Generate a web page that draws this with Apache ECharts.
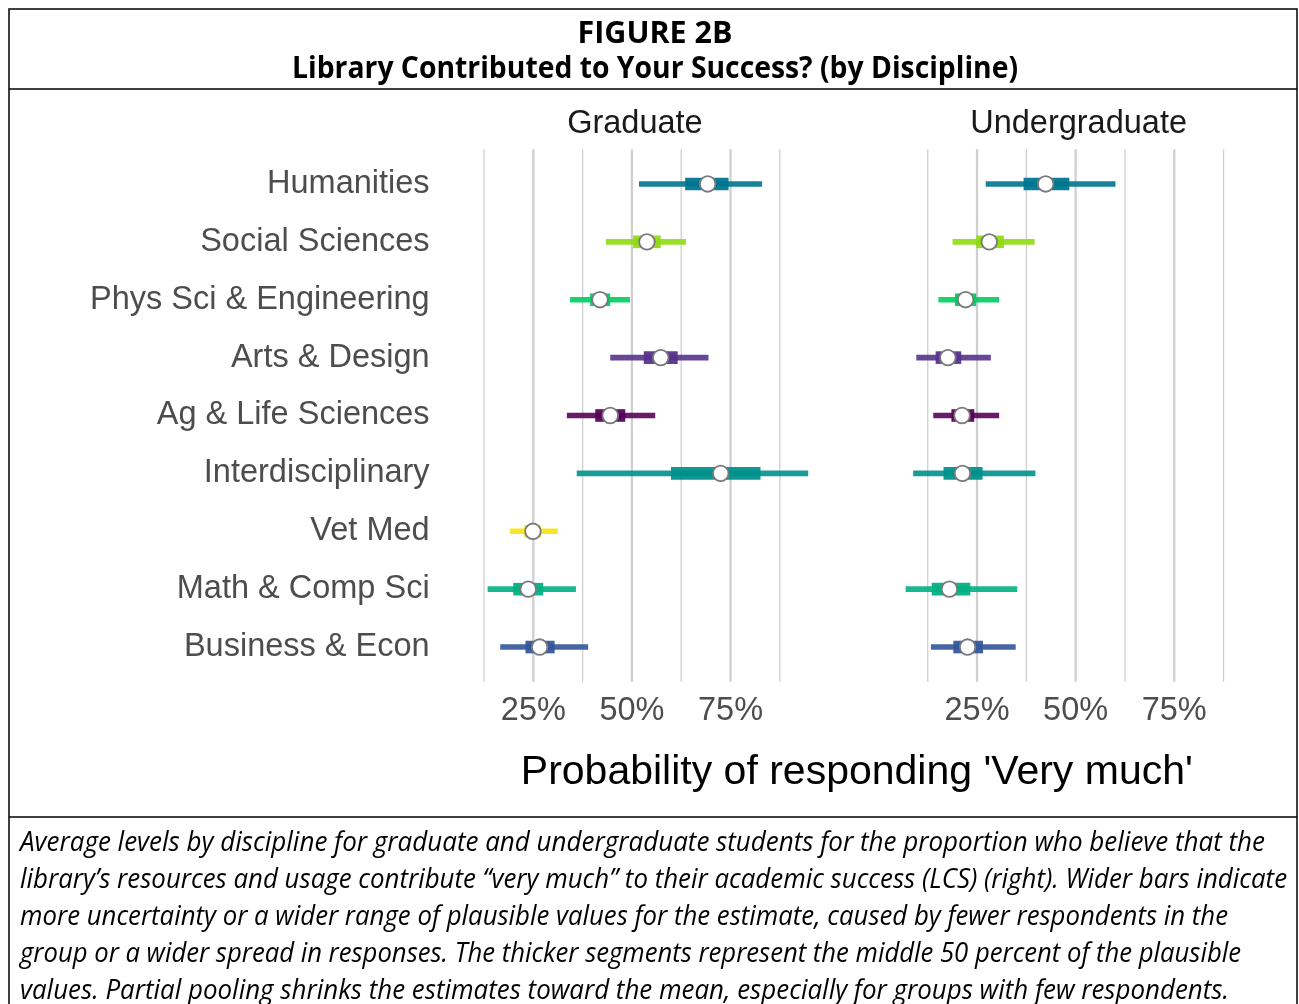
<!DOCTYPE html>
<html>
<head>
<meta charset="utf-8">
<script src="https://cdn.jsdelivr.net/npm/echarts@6/dist/echarts.min.js"></script>
<style>
  html, body { margin: 0; padding: 0; background: #fff; }
  #main { width: 1299px; height: 1004px; }
</style>
</head>
<body>
<div id="main"></div>
<script>
// disciplines, top to bottom
const categories = ['Humanities', 'Social Sciences', 'Phys Sci & Engineering', 'Arts & Design',
  'Ag & Life Sciences', 'Interdisciplinary', 'Vet Med', 'Math & Comp Sci', 'Business & Econ'];
const colors = ['#00758f', '#8fdb12', '#00cc62', '#56338b', '#56025a', '#00918b', '#f5e30c', '#00b083', '#33569a'];

// graduate: outer interval, middle 50%, mean
const gradLow  = [0.518, 0.434, 0.343, 0.445, 0.335, 0.360, 0.191, 0.134, 0.166];
const gradQ25  = [0.635, 0.503, 0.394, 0.530, 0.407, 0.599, 0.227, 0.199, 0.230];
const gradMean = [0.692, 0.538, 0.419, 0.573, 0.445, 0.725, 0.249, 0.237, 0.266];
const gradQ75  = [0.745, 0.573, 0.445, 0.616, 0.483, 0.826, 0.269, 0.275, 0.304];
const gradHigh = [0.830, 0.637, 0.495, 0.694, 0.559, 0.947, 0.312, 0.358, 0.389];

// undergraduate (no Vet Med)
const ugLow  = [0.272, 0.188, 0.152, 0.096, 0.139, 0.088, null, 0.069, 0.133];
const ugQ25  = [0.368, 0.248, 0.194, 0.145, 0.185, 0.165, null, 0.135, 0.190];
const ugMean = [0.424, 0.281, 0.221, 0.176, 0.212, 0.213, null, 0.180, 0.226];
const ugQ75  = [0.484, 0.318, 0.248, 0.210, 0.243, 0.264, null, 0.233, 0.265];
const ugHigh = [0.601, 0.396, 0.306, 0.285, 0.306, 0.398, null, 0.352, 0.348];

const tickVals = [0.25, 0.5, 0.75];
const gridVals = [0.125, 0.25, 0.375, 0.5, 0.625, 0.75, 0.875];
const panelNames = ['Graduate', 'Undergraduate'];

const captionLines = [
  'Average levels by discipline for graduate and undergraduate students for the proportion who believe that the',
  'library\u2019s resources and usage contribute \u201cvery much\u201d to their academic success (LCS) (right). Wider bars indicate',
  'more uncertainty or a wider range of plausible values for the estimate, caused by fewer respondents in the',
  'group or a wider spread in responses. The thicker segments represent the middle 50 percent of the plausible',
  'values. Partial pooling shrinks the estimates toward the mean, especially for groups with few respondents.'
];

const FONT = '"Liberation Sans", Arial, sans-serif';
const xMin = 0.025, xMax = 0.99;

// squeeze a text to a wanted width (the original uses a condensed face)
const measureCtx = document.createElement('canvas').getContext('2d');
function fitScale(text, font, target) {
  measureCtx.font = font;
  return target / measureCtx.measureText(text).width;
}

function buildData(low, q25, mean, q75, high) {
  const out = [];
  for (let i = 0; i < categories.length; i++) {
    if (mean[i] == null) continue;
    out.push([low[i], q25[i], mean[i], q75[i], high[i], i]);
  }
  return out;
}

function renderInterval(params, api) {
  const i = api.value(5);
  const y = api.coord([api.value(2), i])[1];
  const xl = api.coord([api.value(0), i])[0];
  const x1 = api.coord([api.value(1), i])[0];
  const xm = api.coord([api.value(2), i])[0];
  const x3 = api.coord([api.value(3), i])[0];
  const xh = api.coord([api.value(4), i])[0];
  const c = colors[i];
  return {
    type: 'group',
    children: [
      { type: 'rect', shape: { x: xl, y: y - 2.8, width: xh - xl, height: 5.6 }, style: { fill: c, opacity: 0.9 } },
      { type: 'rect', shape: { x: x1, y: y - 6.3, width: x3 - x1, height: 12.6 }, style: { fill: c, opacity: 0.94 } },
      { type: 'circle', shape: { cx: xm, cy: y, r: 7.8 }, style: { fill: '#ffffff', stroke: '#7a7a7a', lineWidth: 1.8 } }
    ]
  };
}

function renderGridLine(params, api) {
  const cs = params.coordSys;
  const x = api.coord([api.value(0), 0])[0];
  const ext = cs.height / categories.length * 0.1;
  return {
    type: 'line',
    shape: { x1: x, y1: cs.y - ext, x2: x, y2: cs.y + cs.height + ext },
    style: { stroke: '#cfcfcf', lineWidth: api.value(1) ? 2.3 : 1.3 }
  };
}

const grids = [
  { left: 444.6, top: 155, width: 380.6, height: 521 },
  { left: 888.3, top: 155, width: 380.6, height: 521 }
];

const xAxes = grids.map((g, k) => ({
  type: 'value', gridIndex: k, min: xMin, max: xMax,
  axisLine: { show: false }, axisTick: { show: false }, splitLine: { show: false },
  axisLabel: {
    customValues: tickVals,
    formatter: v => Math.round(v * 100) + '%',
    fontSize: 32.5, color: '#4d4d4d', fontFamily: FONT, margin: 19
  }
}));

const yAxes = grids.map((g, k) => ({
  type: 'category', gridIndex: k, data: categories, inverse: true,
  axisLine: { show: false }, axisTick: { show: false }, splitLine: { show: false },
  axisLabel: { show: k === 0, fontSize: 32.5, color: '#4d4d4d', fontFamily: FONT, margin: 15, padding: [4, 0, 0, 0] }
}));

const gridLineData = gridVals.map(v => [v, tickVals.indexOf(v) >= 0 ? 1 : 0]);

const series = [];
[0, 1].forEach(k => {
  series.push({
    type: 'custom', xAxisIndex: k, yAxisIndex: k, silent: true, z: 1,
    encode: { x: 0 },
    renderItem: renderGridLine, data: gridLineData
  });
});
series.push({
  type: 'custom', name: 'Graduate', xAxisIndex: 0, yAxisIndex: 0, z: 5, clip: false,
  encode: { x: [0, 4], y: 5 },
  renderItem: renderInterval, data: buildData(gradLow, gradQ25, gradMean, gradQ75, gradHigh)
});
series.push({
  type: 'custom', name: 'Undergraduate', xAxisIndex: 1, yAxisIndex: 1, z: 5, clip: false,
  encode: { x: [0, 4], y: 5 },
  renderItem: renderInterval, data: buildData(ugLow, ugQ25, ugMean, ugQ75, ugHigh)
});

const titleFont = 'bold 31px "Open Sans", sans-serif';
const capFont = 'italic 28px "Open Sans", sans-serif';
const capWidths = [1245, 1267, 1208, 1221, 1209];

const graphic = [
  { type: 'rect', shape: { x: 9, y: 9, width: 1288, height: 1010 }, style: { fill: 'none', stroke: '#000', lineWidth: 1.5 } },
  { type: 'line', shape: { x1: 9, y1: 89, x2: 1297, y2: 89 }, style: { stroke: '#000', lineWidth: 1.5 } },
  { type: 'line', shape: { x1: 9, y1: 817, x2: 1297, y2: 817 }, style: { stroke: '#000', lineWidth: 1.5 } },
  {
    type: 'text', x: 655, y: 34, scaleX: fitScale('FIGURE 2B', titleFont, 155),
    style: { text: 'FIGURE 2B', font: titleFont, fill: '#000', textAlign: 'center', textVerticalAlign: 'middle' }
  },
  {
    type: 'text', x: 655, y: 69,
    scaleX: fitScale('Library Contributed to Your Success? (by Discipline)', titleFont, 726),
    style: { text: 'Library Contributed to Your Success? (by Discipline)', font: titleFont, fill: '#000', textAlign: 'center', textVerticalAlign: 'middle' }
  },
  {
    type: 'text', x: 856.8, y: 773,
    style: { text: "Probability of responding 'Very much'", font: '41px ' + FONT, fill: '#000', textAlign: 'center', textVerticalAlign: 'middle' }
  }
];
grids.forEach((g, k) => {
  graphic.push({
    type: 'text', x: g.left + g.width / 2, y: 124,
    style: { text: panelNames[k], font: '32.5px ' + FONT, fill: '#1a1a1a', textAlign: 'center', textVerticalAlign: 'middle' }
  });
});
captionLines.forEach((t, i) => {
  graphic.push({
    type: 'text', x: 20, y: 843 + i * 37, scaleX: fitScale(t, capFont, capWidths[i]),
    style: { text: t, font: capFont, fill: '#000', textAlign: 'left', textVerticalAlign: 'middle' }
  });
});

const chart = echarts.init(document.getElementById('main'));
chart.setOption({
  animation: false,
  backgroundColor: '#ffffff',
  grid: grids,
  xAxis: xAxes,
  yAxis: yAxes,
  series: series,
  graphic: graphic
});
</script>
</body>
</html>
